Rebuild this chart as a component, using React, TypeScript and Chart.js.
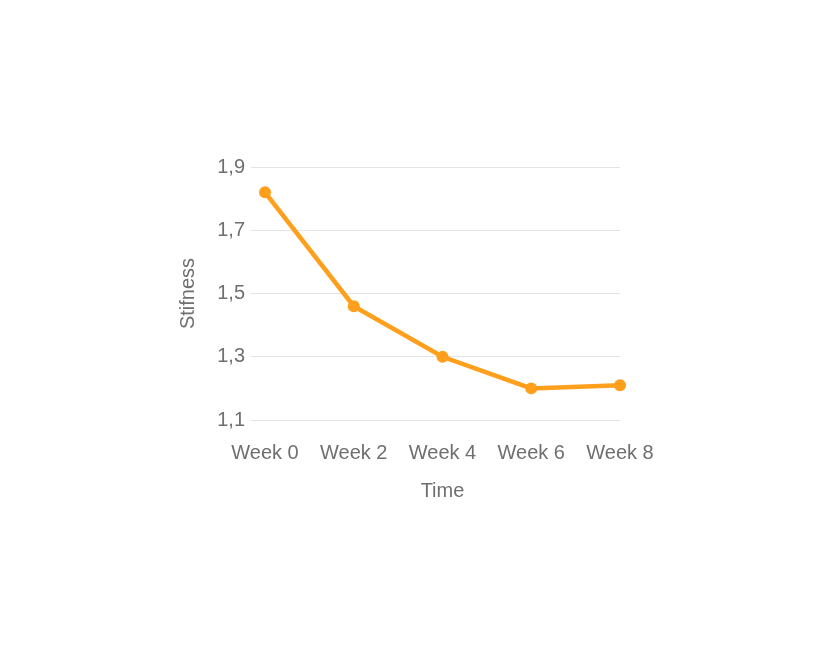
import Chart from "chart.js/auto";
import { useEffect, useRef } from "react";

const weeks = ["Week 0", "Week 2", "Week 4", "Week 6", "Week 8"];
const stiffness = [1.82, 1.46, 1.3, 1.2, 1.21];
const yMin = 1.1;
const yMax = 1.9;
const yStep = 0.2;

const FONT = "'Liberation Sans', Arial, sans-serif";
const TEXT = "#6f6f6f";
const ORANGE = "#ff9f1c";

export default function App() {
  const canvasRef = useRef<HTMLCanvasElement | null>(null);

  useEffect(() => {
    if (!canvasRef.current) {
      return;
    }

    const ctx = canvasRef.current.getContext("2d");

    if (!ctx) {
      return;
    }

    const chart = new Chart(ctx, {
      type: "line",
      data: {
        labels: weeks,
        datasets: [
          {
            label: "Stifness",
            data: stiffness,
            borderColor: ORANGE,
            backgroundColor: ORANGE,
            borderWidth: 4.5,
            pointRadius: 6,
            pointBorderWidth: 0,
            pointBackgroundColor: ORANGE,
            tension: 0,
          },
        ],
      },
      options: {
        animation: false,
        responsive: true,
        maintainAspectRatio: false,
        layout: {
          padding: { left: 164, right: 206, top: 159, bottom: 153 },
        },
        plugins: {
          legend: { display: false },
          tooltip: { enabled: false },
        },
        scales: {
          x: {
            offset: false,
            grid: { display: false, drawTicks: false },
            border: { display: false },
            ticks: {
              color: TEXT,
              padding: 21,
              maxRotation: 0,
              font: { family: FONT, size: 20 },
            },
            title: {
              display: true,
              text: "Time",
              color: TEXT,
              font: { family: FONT, size: 20 },
              padding: { top: 4, bottom: 4 },
            },
            afterFit: (scale) => {
              scale.height = 87;
            },
          },
          y: {
            min: yMin,
            max: yMax,
            grid: { color: "#e3e3e3", lineWidth: 1, tickLength: 14 },
            border: { display: false },
            ticks: {
              stepSize: yStep,
              color: TEXT,
              padding: 6,
              font: { family: FONT, size: 20 },
              callback: (value) => Number(value).toFixed(1).replace(".", ","),
            },
            title: {
              display: true,
              text: "Stifness",
              color: TEXT,
              font: { family: FONT, size: 20 },
              padding: { top: 4, bottom: 4 },
            },
            afterFit: (scale) => {
              scale.width = 93;
            },
          },
        },
      },
    });

    return () => {
      chart.destroy();
    };
  }, []);

  return (
    <div style={{ width: 818, height: 652, position: "relative" }}>
      <canvas ref={canvasRef}></canvas>
    </div>
  );
}
